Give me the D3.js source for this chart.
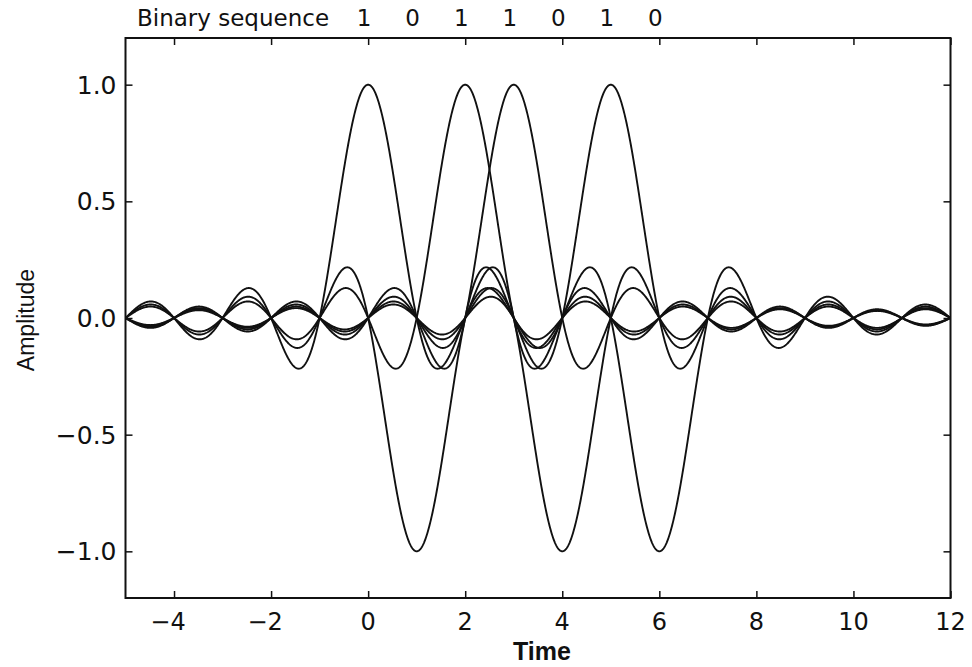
<!DOCTYPE html>
<html>
<head>
<meta charset="utf-8">
<script src="https://cdn.jsdelivr.net/npm/d3@7"></script>
<style>
  html, body { margin: 0; padding: 0; background: #fff; }
  svg { display: block; }
</style>
</head>
<body>
<svg id="chart" width="972" height="667"></svg>
<script>
// ---- data ----
const bits = [1, 0, 1, 1, 0, 1, 0];          // binary sequence
const pulseCenters = [0, 1, 2, 3, 4, 5, 6];   // symbol times
const xTicks = [-4, -2, 0, 2, 4, 6, 8, 10, 12];
const yTicks = [1.0, 0.5, 0.0, -0.5, -1.0];
const yTickLabels = ["1.0", "0.5", "0.0", "\u22120.5", "\u22121.0"];
const xDomain = [-5, 12];
const yDomain = [-1.2, 1.2];
const titleText = "Binary sequence";
const xLabel = "Time";
const yLabel = "Amplitude";

// ---- layout ----
const W = 972, H = 667;
const m = { left: 125.5, right: 972 - 950.5, top: 38, bottom: 667 - 598 };
const svg = d3.select("#chart");
const x = d3.scaleLinear().domain(xDomain).range([m.left, W - m.right]);
const y = d3.scaleLinear().domain(yDomain).range([H - m.bottom, m.top]);

const tickFont = "'DejaVu Sans', sans-serif";

// sinc pulse shape
const sinc = t => (Math.abs(t) < 1e-9 ? 1 : Math.sin(Math.PI * t) / (Math.PI * t));
const tGrid = d3.range(xDomain[0], xDomain[1] + 1e-9, 0.01);

const line = d3.line().x(d => x(d[0])).y(d => y(d[1]));

const clipId = "plotclip";
svg.append("clipPath").attr("id", clipId)
  .append("rect")
  .attr("x", x(xDomain[0])).attr("y", y(yDomain[1]))
  .attr("width", x(xDomain[1]) - x(xDomain[0]))
  .attr("height", y(yDomain[0]) - y(yDomain[1]));

const gCurves = svg.append("g").attr("clip-path", `url(#${clipId})`);
bits.forEach((b, i) => {
  const amp = b === 1 ? 1 : -1;
  const c = pulseCenters[i];
  const pts = tGrid.map(t => [t, amp * sinc(t - c)]);
  gCurves.append("path")
    .attr("d", line(pts))
    .attr("fill", "none")
    .attr("stroke", "#111")
    .attr("stroke-width", 1.9)
    .attr("stroke-linejoin", "round");
});

// ---- axes (inward ticks on all four sides) ----
const tickLen = 7;
const axB = d3.axisBottom(x).tickValues(xTicks).tickSize(-tickLen).tickFormat("").tickSizeOuter(0);
const axT = d3.axisTop(x).tickValues(xTicks).tickSize(-tickLen).tickFormat("").tickSizeOuter(0);
const axL = d3.axisLeft(y).tickValues(yTicks).tickSize(-tickLen).tickFormat("").tickSizeOuter(0);
const axR = d3.axisRight(y).tickValues(yTicks).tickSize(-tickLen).tickFormat("").tickSizeOuter(0);

function styleAxis(g) {
  g.select(".domain").remove();
  g.selectAll(".tick line").attr("stroke", "#111").attr("stroke-width", 1.5);
}
svg.append("g").attr("transform", `translate(0,${y(yDomain[0])})`).call(axB).call(styleAxis);
svg.append("g").attr("transform", `translate(0,${y(yDomain[1])})`).call(axT).call(styleAxis);
svg.append("g").attr("transform", `translate(${x(xDomain[0])},0)`).call(axL).call(styleAxis);
svg.append("g").attr("transform", `translate(${x(xDomain[1])},0)`).call(axR).call(styleAxis);

// frame
svg.append("rect")
  .attr("x", x(xDomain[0])).attr("y", y(yDomain[1]))
  .attr("width", x(xDomain[1]) - x(xDomain[0]))
  .attr("height", y(yDomain[0]) - y(yDomain[1]))
  .attr("fill", "none").attr("stroke", "#111").attr("stroke-width", 2);

// tick labels
svg.append("g").selectAll("text").data(xTicks).join("text")
  .attr("x", d => x(d) - (d < 0 ? 6 : 0))
  .attr("y", 630)
  .attr("text-anchor", "middle")
  .attr("font-family", tickFont).attr("font-size", 24)
  .attr("fill", "#111")
  .text(d => d < 0 ? "\u2212" + Math.abs(d) : String(d));

svg.append("g").selectAll("text").data(yTicks).join("text")
  .attr("x", x(xDomain[0]) - 9)
  .attr("y", d => y(d) + 9)
  .attr("text-anchor", "end")
  .attr("font-family", tickFont).attr("font-size", 25)
  .attr("fill", "#111")
  .text((d, i) => yTickLabels[i]);

// axis titles
svg.append("text")
  .attr("x", 542).attr("y", 660)
  .attr("text-anchor", "middle")
  .attr("font-family", "'Liberation Sans', Arial, sans-serif")
  .attr("font-size", 25).attr("font-weight", "bold")
  .attr("fill", "#111")
  .text(xLabel);

svg.append("text")
  .attr("transform", `translate(34,320) rotate(-90)`)
  .attr("text-anchor", "middle")
  .attr("font-family", "'Liberation Sans', Arial, sans-serif")
  .attr("font-size", 23)
  .attr("fill", "#111")
  .text(yLabel);

// title: binary sequence above the pulses
svg.append("text")
  .attr("x", 137).attr("y", 26)
  .attr("font-family", tickFont).attr("font-size", 23)
  .attr("fill", "#111")
  .text(titleText);

svg.append("g").selectAll("text").data(bits).join("text")
  .attr("x", (d, i) => x(pulseCenters[i]) - 4)
  .attr("y", 26)
  .attr("text-anchor", "middle")
  .attr("font-family", tickFont).attr("font-size", 23)
  .attr("fill", "#111")
  .text(d => String(d));
</script>
</body>
</html>
